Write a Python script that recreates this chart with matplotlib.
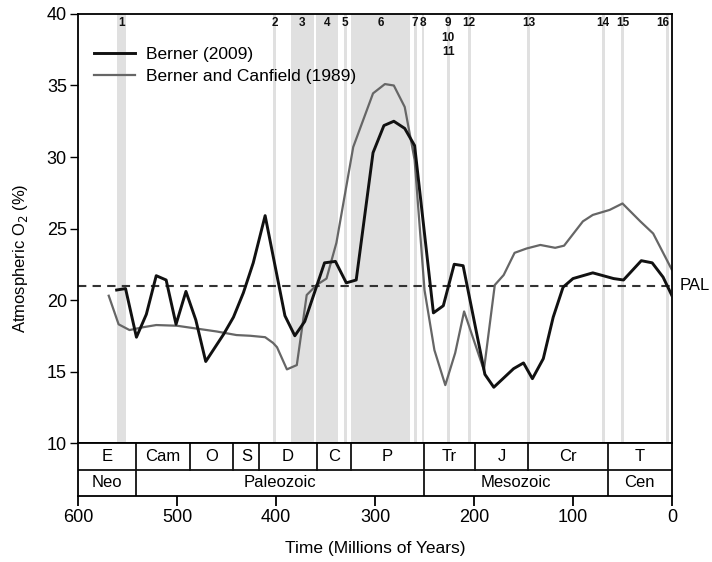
import numpy as np
import matplotlib.pyplot as plt

# Berner (2009) O2 curve (Myr ago, % O2)
berner_t = [561, 552, 541, 531, 521, 511, 501, 491, 481, 471, 453, 443, 433, 423, 411,
            391, 381, 371, 351, 340, 329, 319, 302, 291, 281, 270, 260, 241, 231, 220,
            211, 189, 180, 160, 150, 141, 130, 120, 110, 100, 80, 59, 49, 31, 20, 9, 0]
berner_o2 = [20.7, 20.8, 17.4, 19.0, 21.7, 21.4, 18.3, 20.6, 18.6, 15.7, 17.6, 18.8, 20.5, 22.6, 25.9,
             18.9, 17.5, 18.5, 22.6, 22.7, 21.2, 21.4, 30.3, 32.2, 32.5, 32.0, 30.8, 19.1, 19.6, 22.5,
             22.4, 14.8, 13.9, 15.2, 15.6, 14.5, 15.9, 18.8, 20.9, 21.5, 21.9, 21.5, 21.4, 22.75, 22.6, 21.6, 20.3]

# Berner and Canfield (1989)
bc_t = [569, 559, 548, 534, 521, 500, 480, 460, 440, 426, 411, 403, 399, 389, 379, 369, 359, 349,
        339, 322, 302, 290, 281, 270, 260, 250, 240, 229, 219, 210, 190, 179, 170, 159, 147, 133,
        118, 109, 90, 80, 63, 50, 32, 19, 0]
bc_o2 = [20.3, 18.3, 17.9, 18.1, 18.25, 18.2, 18.0, 17.8, 17.55, 17.5, 17.4, 17.0, 16.7, 15.15, 15.45, 20.35, 21.05, 21.5,
         24.0, 30.7, 34.45, 35.1, 35.0, 33.5, 29.8, 20.7, 16.5, 14.05, 16.3, 19.2, 15.1, 21.05, 21.75, 23.3, 23.6, 23.85,
         23.65, 23.8, 25.5, 25.95, 26.3, 26.75, 25.5, 24.65, 22.1]

PAL = 21

# numbered events: (start, end) in Myr
event_spans = [(561, 552), (403, 400), (385, 362), (359.5, 337), (331.5, 328.5), (324, 264.5),
               (260.5, 257.5), (253, 250.5), (227.5, 224.5), (206.5, 203.5), (146.5, 143.5),
               (71, 68), (51.5, 48.5), (6.5, 3.5)]
event_labels = ['1', '2', '3', '4', '5', '6', '7', '8', '9\n10\n11', '12', '13', '14', '15', '16']
event_label_t = [556.5, 401.5, 373.5, 348, 330, 294, 259.5, 251.5, 226, 205, 145, 69.5, 50, 9]

periods = ['E', 'Cam', 'O', 'S', 'D', 'C', 'P', 'Tr', 'J', 'Cr', 'T']
period_bounds = [600, 541, 487, 443, 417, 359, 324, 251, 199, 145, 65, 0]
eras = ['Neo', 'Paleozoic', 'Mesozoic', 'Cen']
era_bounds = [600, 541, 251, 65, 0]

plt.rcParams['font.family'] = ['Liberation Sans', 'DejaVu Sans']

fig = plt.figure(figsize=(7.12, 5.62), dpi=100)
ax = fig.add_axes([0.1096, 0.2117, 0.8342, 0.7634])
tab = fig.add_axes([0.1096, 0.1174, 0.8342, 0.0943], sharex=ax)

band_color = '#e0e0e0'
for (a, b) in event_spans:
    ax.axvspan(a, b, color=band_color, lw=0, zorder=0)
for lab, t in zip(event_labels, event_label_t):
    ax.text(t, 39.8, lab, ha='center', va='top', fontsize=8.5, fontweight='bold',
            linespacing=1.3, color='#111111')

ax.plot(berner_t, berner_o2, color='#111111', lw=2.1, label='Berner (2009)', zorder=3)
ax.plot(bc_t, bc_o2, color='#666666', lw=1.6, label='Berner and Canfield (1989)', zorder=2)
ax.axhline(PAL, color='#333333', lw=1.5, ls=(0, (4, 3)), zorder=1)
ax.text(1.013, (PAL - 10) / 30, 'PAL', transform=ax.transAxes, va='center', ha='left', fontsize=12)

ax.set_xlim(600, 0)
ax.set_ylim(10, 40)
ax.set_yticks([10, 15, 20, 25, 30, 35, 40])
ax.tick_params(axis='y', direction='out', length=6, width=1, labelsize=13, pad=2)
ax.tick_params(axis='x', bottom=False, labelbottom=False)
for s in ax.spines.values():
    s.set_linewidth(1.3)
ax.legend(loc='upper left', bbox_to_anchor=(0.0, 0.96), frameon=False, fontsize=12.5,
          handlelength=2.4, handletextpad=0.6, labelspacing=0.4)

# y label centred over plot + time table
fig.text(0.029, 1 - 258 / 562, 'Atmospheric O$_2$ (%)', rotation=90,
         ha='center', va='center', fontsize=12)

# geologic time table
tab.set_ylim(0, 2)
tab.set_yticks([])
tab.axhline(1, color='#111111', lw=1.3)
for b in period_bounds[1:-1]:
    tab.plot([b, b], [1, 2], color='#111111', lw=1.3)
for b in era_bounds[1:-1]:
    tab.plot([b, b], [0, 1], color='#111111', lw=1.3)
for i, name in enumerate(periods):
    tab.text((period_bounds[i] + period_bounds[i + 1]) / 2, 1.5, name,
             ha='center', va='center', fontsize=12)
for i, name in enumerate(eras):
    tab.text((era_bounds[i] + era_bounds[i + 1]) / 2, 0.5, name,
             ha='center', va='center', fontsize=12)
for s in tab.spines.values():
    s.set_linewidth(1.3)
tab.set_xticks([600, 500, 400, 300, 200, 100, 0])
tab.tick_params(axis='x', direction='out', length=7, width=1.3, labelsize=13, pad=2)
tab.set_xlabel('Time (Millions of Years)', fontsize=12.5, labelpad=11)

fig.savefig('out.png', dpi=100)
